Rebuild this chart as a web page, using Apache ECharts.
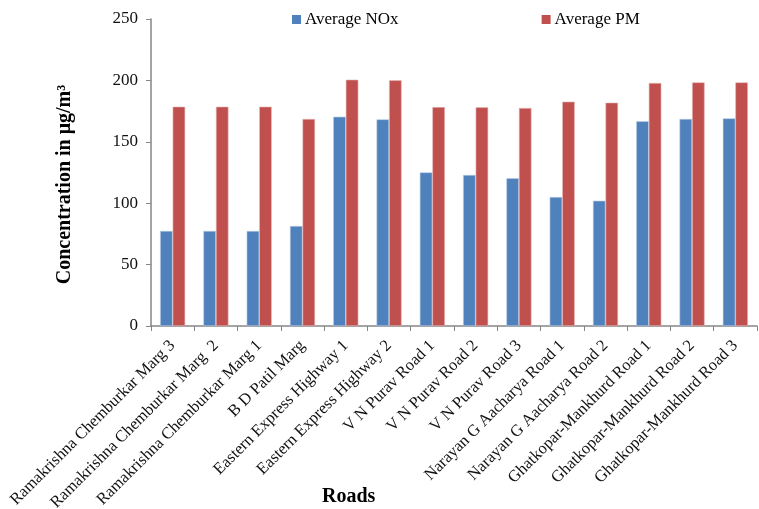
<!DOCTYPE html>
<html>
<head>
<meta charset="utf-8">
<script src="https://cdn.jsdelivr.net/npm/echarts@6/dist/echarts.min.js"></script>
<style>
  html, body { margin: 0; padding: 0; background: #fff; }
  #chart { width: 759px; height: 509px; }
</style>
</head>
<body>
<div id="chart"></div>
<script>
// Roads sampled and the average concentrations measured on each (µg/m³)
const roads = [
  'Ramakrishna Chemburkar Marg 3',
  'Ramakrishna Chemburkar Marg  2',
  'Ramakrishna Chemburkar Marg 1',
  'B D Patil Marg',
  'Eastern Express Highway 1',
  'Eastern Express Highway 2',
  'V N Purav Road 1',
  'V N Purav Road 2',
  'V N Purav Road 3',
  'Narayan G Aacharya Road 1',
  'Narayan G Aacharya Road 2',
  'Ghatkopar-Mankhurd Road 1',
  'Ghatkopar-Mankhurd Road 2',
  'Ghatkopar-Mankhurd Road 3'
];
const avgNOx = [77.4, 77.4, 77.4, 81.4, 170.4, 168.3, 125.1, 123.0, 120.3, 105.0, 102.0, 166.7, 168.6, 169.1];
const avgPM  = [178.6, 178.6, 178.6, 168.6, 200.6, 200.1, 178.3, 178.1, 177.5, 182.7, 181.9, 197.9, 198.4, 198.4];
const yTicks = { min: 0, max: 250, interval: 50 };

const serif = '"Liberation Serif", "Times New Roman", serif';
const axisGray = '#868686';

const chart = echarts.init(document.getElementById('chart'), null, { renderer: 'canvas' });
chart.setOption({
  animation: false,
  textStyle: { fontFamily: serif, color: '#000' },
  title: {
    text: 'Roads',
    left: 322,
    top: 487,
    padding: 0,
    textStyle: { fontFamily: serif, fontWeight: 'bold', fontSize: 20, color: '#000' }
  },
  legend: {
    left: 292,
    top: 11,
    padding: 0,
    icon: 'rect',
    itemWidth: 9,
    itemHeight: 9,
    itemGap: 143,
    itemStyle: { borderWidth: 0 },
    textStyle: { fontFamily: serif, fontSize: 17, color: '#000', padding: [0, 0, 0, -1] },
    data: ['Average NOx', 'Average PM']
  },
  grid: {
    left: 151, right: 2, top: 19, bottom: 183,
    containLabel: false,
    outerBoundsMode: 'none'
  },
  xAxis: {
    type: 'category',
    data: roads,
    axisLine: { lineStyle: { color: axisGray, width: 1.5 } },
    axisTick: { show: true, alignWithLabel: false, length: 5, lineStyle: { color: axisGray } },
    axisLabel: {
      rotate: 45,
      interval: 0,
      margin: 17,
      fontFamily: serif,
      fontSize: 16.5,
      color: '#111'
    }
  },
  yAxis: {
    type: 'value',
    min: yTicks.min,
    max: yTicks.max,
    interval: yTicks.interval,
    name: 'Concentration in μg/m³',
    nameLocation: 'middle',
    nameGap: 76,
    nameTextStyle: {
      fontFamily: serif, fontWeight: 'bold', fontSize: 20, color: '#000',
      padding: [0, 24, 0, 0]
    },
    axisLine: { show: true, lineStyle: { color: axisGray, width: 1.5 } },
    axisTick: { show: true, length: 5, lineStyle: { color: axisGray } },
    splitLine: { show: false },
    axisLabel: { fontFamily: serif, fontSize: 17, color: '#111', margin: 13 }
  },
  series: [
    {
      name: 'Average NOx',
      type: 'bar',
      data: avgNOx,
      barGap: '0%',
      barCategoryGap: '42%',
      itemStyle: { color: '#4F81BD', borderColor: '#B9CDE5', borderWidth: 0.6 }
    },
    {
      name: 'Average PM',
      type: 'bar',
      data: avgPM,
      barGap: '0%',
      barCategoryGap: '42%',
      itemStyle: { color: '#C0504D', borderColor: '#E6B9B8', borderWidth: 0.6 }
    }
  ]
});
</script>
</body>
</html>
